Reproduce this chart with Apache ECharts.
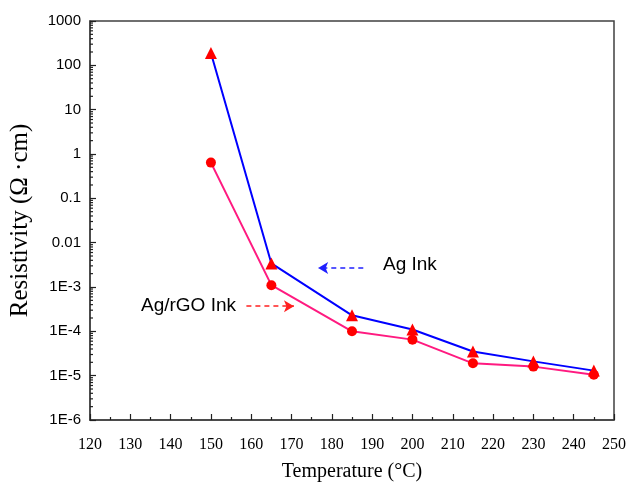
<!DOCTYPE html>
<html>
<head>
<meta charset="utf-8">
<style>
  html, body { margin: 0; padding: 0; background: #fff; }
  #chart { width: 630px; height: 488px; }
</style>
<script src="https://cdn.jsdelivr.net/npm/echarts@6/dist/echarts.min.js"></script>
</head>
<body>
<div id="chart"></div>
<script>
// Sintering temperature (°C)
var temperatures = [150, 165, 185, 200, 215, 230, 245];
// Resistivity (Ω·cm) of the plain silver ink
var agInk = [190, 3.4e-3, 2.3e-4, 1.1e-4, 3.5e-5, 2.1e-5, 1.3e-5];
// Resistivity (Ω·cm) of the silver / reduced graphene oxide ink
var agRgoInk = [0.64, 1.1e-3, 1.0e-4, 6.5e-5, 1.9e-5, 1.6e-5, 1.05e-5];
// Axis ranges
var xRange = [120, 250];
var yRange = [1e-6, 1000];

// Log-axis minor tick values (2..9 × each decade)
var minorTickValues = [];
for (var e = -6; e < 3; e++) {
  for (var k = 2; k <= 9; k++) minorTickValues.push(k * Math.pow(10, e));
}

function pairs(xs, ys) {
  return xs.map(function (x, i) { return [x, ys[i]]; });
}

function yLabel(v) {
  if (v >= 0.01) return String(+v.toPrecision(6));
  return '1E' + Math.round(Math.log10(v));
}

var chart = echarts.init(document.getElementById('chart'));
chart.setOption({
  animation: false,
  backgroundColor: '#ffffff',
  grid: {
    left: 90, right: 16, top: 21, bottom: 68,
    show: true, borderColor: '#404040', borderWidth: 1.5
  },
  xAxis: {
    type: 'value',
    min: xRange[0], max: xRange[1], interval: 10,
    name: 'Temperature (°C)',
    nameLocation: 'middle', nameGap: 42,
    nameTextStyle: { fontFamily: 'Liberation Serif', fontSize: 20, color: '#000' },
    axisLine: { show: true, lineStyle: { color: '#404040', width: 1.5 } },
    axisTick: { show: true, inside: true, length: 6, lineStyle: { color: '#202020', width: 1.2 } },
    minorTick: { show: true, splitNumber: 2, length: 3, lineStyle: { color: '#202020', width: 1.2 } },
    splitLine: { show: false },
    axisLabel: { fontFamily: 'Liberation Serif', fontSize: 16, color: '#000', margin: 17 }
  },
  yAxis: {
    type: 'log', logBase: 10,
    min: yRange[0], max: yRange[1],
    name: 'Resistivity (Ω ·cm)',
    nameLocation: 'middle', nameGap: 57,
    nameTextStyle: { fontFamily: 'Liberation Serif', fontSize: 25, color: '#000' },
    axisLine: { show: true, lineStyle: { color: '#404040', width: 1.5 } },
    axisTick: { show: true, inside: true, length: 6, lineStyle: { color: '#202020', width: 1.2 } },
    splitLine: { show: false },
    axisLabel: {
      fontFamily: 'Liberation Sans', fontSize: 15, color: '#000', margin: 9,
      formatter: yLabel
    }
  },
  graphic: [
    { type: 'text', left: 383, top: 255,
      style: { text: 'Ag Ink', font: '19px "Liberation Sans"', fill: '#000' } },
    { type: 'text', left: 141, top: 296,
      style: { text: 'Ag/rGO Ink', font: '19px "Liberation Sans"', fill: '#000' } }
  ],
  series: [
    {
      // minor ticks of the log axis
      type: 'custom',
      silent: true,
      clip: false,
      data: minorTickValues.map(function (v) { return [xRange[0], v]; }),
      renderItem: function (params, api) {
        var p = api.coord([api.value(0), api.value(1)]);
        return {
          type: 'line',
          shape: { x1: p[0], y1: p[1], x2: p[0] + 3, y2: p[1] },
          style: { stroke: '#202020', lineWidth: 1.2 }
        };
      },
      z: 1
    },
    {
      name: 'Ag/rGO Ink',
      type: 'line',
      data: pairs(temperatures, agRgoInk),
      symbol: 'circle', symbolSize: 10,
      lineStyle: { color: '#ff1a80', width: 2 },
      itemStyle: { color: '#ff0000' },
      z: 3,
      markLine: {
        silent: true,
        symbol: ['none', 'arrow'], symbolSize: [9, 10],
        label: { show: false },
        lineStyle: { color: '#ff2020', type: [5, 4], width: 1.5 },
        itemStyle: { color: '#ff2020' },
        data: [[{ coord: [158.8, 3.7e-4] }, { coord: [170.6, 3.7e-4] }]]
      }
    },
    {
      name: 'Ag Ink',
      type: 'line',
      data: pairs(temperatures, agInk),
      symbol: 'triangle', symbolSize: 12,
      lineStyle: { color: '#0000ff', width: 2 },
      itemStyle: { color: '#ff0000' },
      z: 4,
      markLine: {
        silent: true,
        symbol: ['none', 'arrow'], symbolSize: [9, 10],
        label: { show: false },
        lineStyle: { color: '#2020ff', type: [5, 4], width: 1.5 },
        itemStyle: { color: '#2020ff' },
        data: [[{ coord: [187.8, 2.7e-3] }, { coord: [176.6, 2.7e-3] }]]
      }
    }
  ]
});
</script>
</body>
</html>
